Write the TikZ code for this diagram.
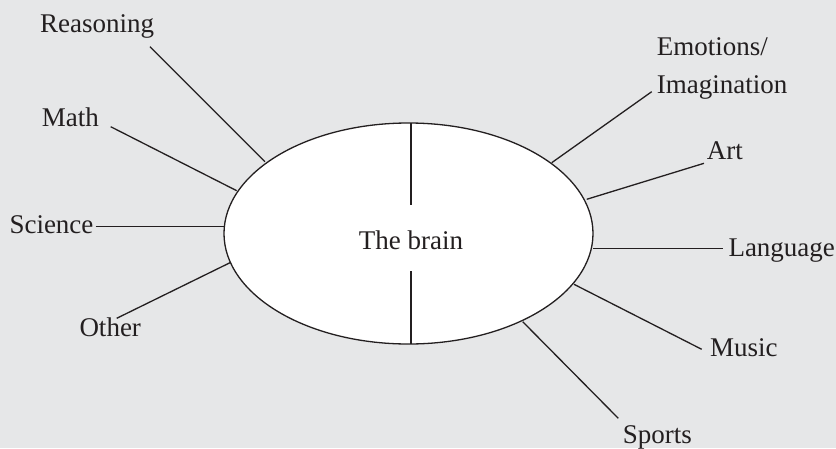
\documentclass[tikz,border=0pt]{standalone}
\usepackage{fontspec}
\setmainfont{Liberation Serif}
\usetikzlibrary{shapes.geometric}
\definecolor{bgc}{HTML}{E6E7E8}
\definecolor{ink}{HTML}{231F20}
\tikzset{
  lbl/.style={inner sep=0pt, text=ink, font=\fontsize{27}{35}\selectfont},
  conn/.style={draw=ink, line width=1.3pt},
}
\begin{document}
\begin{tikzpicture}[x=1pt,y=-1pt]
\fill[bgc] (0,0) rectangle (836,448);
\useasboundingbox (0,0) rectangle (836,448);
\node[ellipse, draw=ink, fill=white, line width=1.3pt, minimum width=369pt, minimum height=221pt, inner sep=0pt] (brain) at (408.5,233.5) {};
\node[lbl, anchor=base] (brainlbl) at (411,249.3) {The brain};
% dividing lines
\coordinate (dt1) at (411,123); \coordinate (dt2) at (411,205);
\coordinate (db1) at (411,271); \coordinate (db2) at (411,344);
\draw[conn] (dt1) -- (dt2);
\draw[conn] (db1) -- (db2);
% labels
\node[lbl, anchor=base west] (reason) at (40,32) {Reasoning};
\node[lbl, anchor=base west] (math) at (41.7,126.7) {Math};
\node[lbl, anchor=base west] (science) at (9.3,233.3) {Science};
\node[lbl, anchor=base west] (other) at (79.3,336.7) {Other};
\node[lbl, anchor=base west, align=left] (emo) at (656.7,93.3) {Emotions/\\[3pt]Imagination};
\node[lbl, anchor=base west] (art) at (706.7,159.3) {Art};
\node[lbl, anchor=base west] (lang) at (728.3,256.7) {Language};
\node[lbl, anchor=base west] (music) at (710,356) {Music};
\node[lbl, anchor=base west] (sports) at (622.7,443.3) {Sports};
% connector ends
\coordinate (r1) at (150,46.7);   \coordinate (r2) at (265,161.7);
\coordinate (m1) at (110.7,126.7); \coordinate (m2) at (236.7,190.7);
\coordinate (s1) at (95.7,226.7);  \coordinate (s2) at (224.5,226.7);
\coordinate (o1) at (116.7,318.3); \coordinate (o2) at (230,262.7);
\coordinate (e1) at (651.7,91.7);  \coordinate (e2) at (551.7,162.7);
\coordinate (a1) at (704,163.3);   \coordinate (a2) at (586.7,199.3);
\coordinate (l1) at (722.7,248.3); \coordinate (l2) at (592.7,248.3);
\coordinate (mu1) at (701.7,349.3); \coordinate (mu2) at (574,284.3);
\coordinate (sp1) at (618.3,418.3); \coordinate (sp2) at (522.7,321.7);
\draw[conn] (r1) -- (r2);
\draw[conn] (m1) -- (m2);
\draw[conn] (s1) -- (s2);
\draw[conn] (o1) -- (o2);
\draw[conn] (e1) -- (e2);
\draw[conn] (a1) -- (a2);
\draw[conn] (l1) -- (l2);
\draw[conn] (mu1) -- (mu2);
\draw[conn] (sp1) -- (sp2);
\end{tikzpicture}
\end{document}
